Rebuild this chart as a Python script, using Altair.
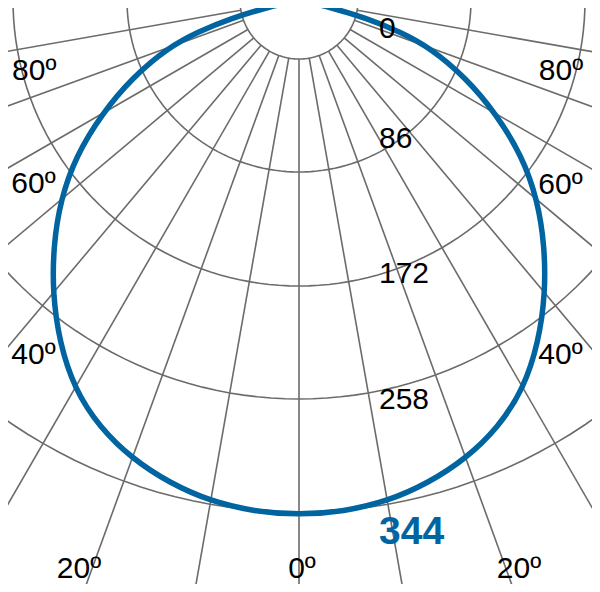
import numpy as np
import pandas as pd
import altair as alt

# luminous intensity (cd) by angle from nadir, one half of a symmetric curve
angles = [0, 5, 10, 15, 20, 25, 30, 35, 40, 45, 50, 55, 60, 65, 70, 72.5, 75, 77, 78]
intensity = [344, 343, 340, 334, 326, 315, 300, 279, 256, 232, 208, 182, 152, 123, 93, 71, 47, 20, 0]

ring_labels = ["0", "86", "172", "258", "344"]
ray_angles = list(range(-90, 91, 10))
angle_ticks = [-80, -60, -40, -20, 0, 20, 40, 60, 80]

# layout in page pixels, lamp at (CX, 0), y grows downwards
W, H = 584, 576
CX = 299
PX_PER_CD = 515 / 344
RING_R = [59, 172, 286, 399, 512]
RAY_FROM, RAY_TO = 59, 800
VALUE_X = 379
VALUE_Y = [37.5, 147.5, 283, 408.5, 544]
ANGLE_POS = [(34.2, 80), (33.5, 193), (33.5, 364), (79, 577.5), (302, 577.5),
             (519, 577.5), (560.5, 364), (560.5, 193.5), (561, 80)]
GRID = "#6b6b6b"
BLUE = "#0064a0"
FONT = "Liberation Sans"

xs = alt.X("x:Q", scale=alt.Scale(domain=[8, 8 + W], nice=False, zero=False), axis=None)
ys = alt.Y("y:Q", scale=alt.Scale(domain=[8, 8 + H], nice=False, zero=False, reverse=True), axis=None)

# grid rings
steps = np.arange(-90, 91, 2)
rings = pd.DataFrame([(i, r, a) for i, r in enumerate(RING_R) for a in steps], columns=["ring", "r", "a"])
rings_c = alt.Chart(rings).mark_line(color=GRID, strokeWidth=1.6, clip=True).transform_calculate(
    x=f"{CX} + datum.r * sin(datum.a * PI / 180)",
    y="datum.r * cos(datum.a * PI / 180)",
).encode(x=xs, y=ys, detail="ring:N", order="a:Q")

# grid rays
rays = pd.DataFrame({"a": ray_angles})
rays_c = alt.Chart(rays).mark_rule(color=GRID, strokeWidth=1.6, clip=True).transform_calculate(
    x=f"{CX} + {RAY_FROM} * sin(datum.a * PI / 180)",
    y=f"{RAY_FROM} * cos(datum.a * PI / 180)",
    x2=f"{CX} + {RAY_TO} * sin(datum.a * PI / 180)",
    y2=f"{RAY_TO} * cos(datum.a * PI / 180)",
).encode(x=xs, y=ys, x2="x2:Q", y2="y2:Q")

# intensity curve, mirrored
half = pd.DataFrame({"a": angles, "cd": intensity})
curve = pd.concat([half.assign(a=-half["a"]).iloc[::-1], half.iloc[1:]], ignore_index=True)
curve_c = alt.Chart(curve).mark_line(
    color=BLUE, strokeWidth=5.5, interpolate="basis", strokeCap="round", clip=True
).transform_calculate(
    x=f"{CX} + datum.cd * {PX_PER_CD} * sin(datum.a * PI / 180)",
    y=f"datum.cd * {PX_PER_CD} * cos(datum.a * PI / 180)",
).encode(x=xs, y=ys, order="a:Q")

# ring value labels
vals = pd.DataFrame({"label": ring_labels, "x": VALUE_X, "y": VALUE_Y})
labels_c = alt.Chart(vals.iloc[:-1]).mark_text(
    align="left", baseline="alphabetic", font=FONT, fontSize=30, color="black"
).encode(x=xs, y=ys, text="label:N")
peak_c = alt.Chart(vals.iloc[-1:]).mark_text(
    align="left", baseline="alphabetic", font=FONT, fontSize=39, fontWeight="bold", color=BLUE
).encode(x=xs, y=ys, text="label:N")

# angle labels
ang = pd.DataFrame({
    "label": [f"{abs(a)}º" for a in angle_ticks],
    "x": [p[0] for p in ANGLE_POS],
    "y": [p[1] for p in ANGLE_POS],
})
angle_c = alt.Chart(ang).mark_text(
    align="center", baseline="alphabetic", font=FONT, fontSize=30, color="black"
).encode(x=xs, y=ys, text="label:N")

chart = alt.layer(rings_c, rays_c, curve_c, labels_c, peak_c, angle_c).properties(
    width=W, height=H, padding=0, autosize=alt.AutoSizeParams(type="none"),
    background="white",
).configure_view(stroke=None)

chart.save("out.html", embed_options={"renderer": "svg", "actions": False})
